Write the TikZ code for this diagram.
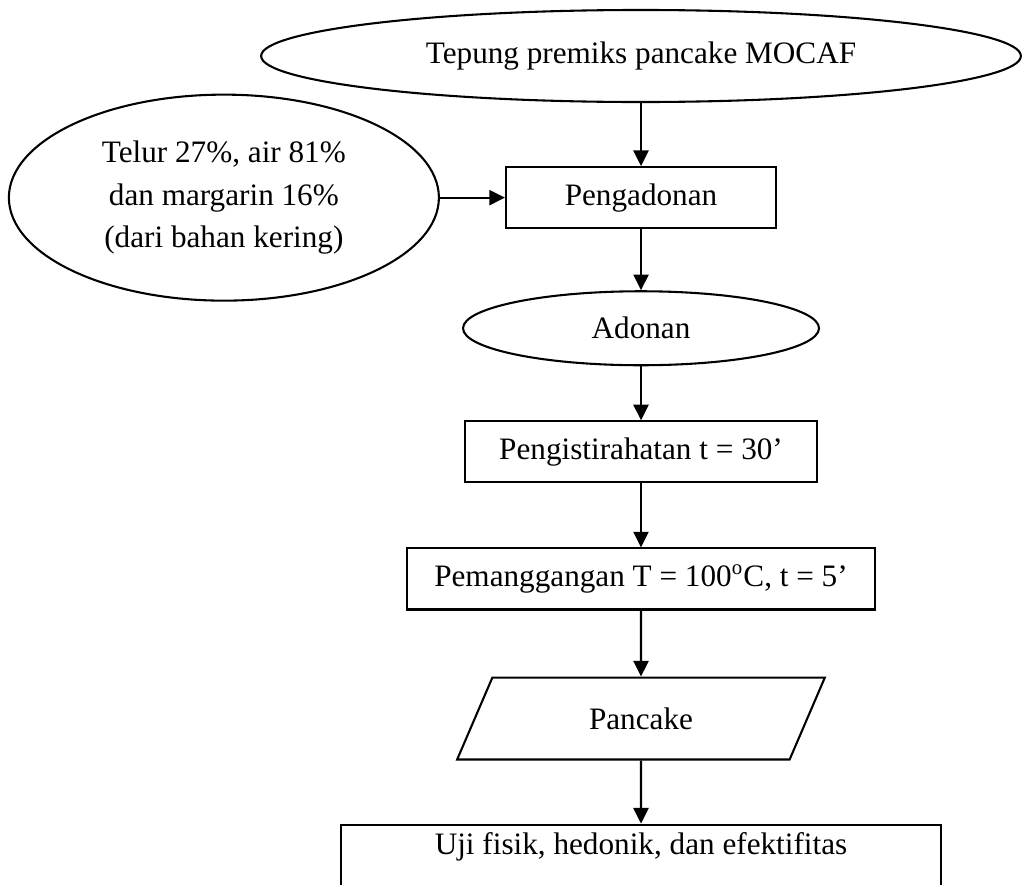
\documentclass[tikz,border=0pt]{standalone}
\usepackage{fontspec}
\setmainfont{Liberation Serif}
\usepackage{tikz}
\usetikzlibrary{arrows.meta,positioning,shapes.geometric}

\begin{document}
\begin{tikzpicture}[
  every node/.style={font=\fontsize{12}{16.2}\selectfont},
  box/.style={draw,line width=0.8pt,minimum height=0.825cm,inner sep=0pt},
  oval/.style={draw,ellipse,line width=0.8pt,inner sep=0pt},
  para/.style={draw,trapezium,trapezium left angle=60.7,trapezium right angle=119.3,trapezium stretches=true,line width=0.8pt,inner sep=0pt,minimum width=4.975cm,minimum height=1.108cm},
  arr/.style={-{Triangle[length=6pt,width=5.8pt]},line width=0.8pt}
]
\useasboundingbox[fill=white] (0,0) rectangle (13.815,-11.950);
\clip (0,0) rectangle (13.815,-11.950);
\node[oval,minimum width=10.27cm,minimum height=1.244cm] (tepung) at (8.665,-0.757) {Tepung premiks pancake MOCAF};
\node[box,minimum width=3.65cm,below=0.852cm of tepung] (aduk) {Pengadonan};
\node[oval,minimum width=4.812cm,minimum height=1.0cm,below=0.825cm of aduk] (adonan) {Adonan};
\node[box,minimum width=4.758cm,below=0.730cm of adonan] (istirahat) {Pengistirahatan t = 30’};
\node[box,minimum width=6.326cm,below=0.865cm of istirahat] (panggang) {Pemanggangan T = 100\textsuperscript{o}C, t = 5’};
\node[para,below=0.892cm of panggang] (pancake) {Pancake};
\node[draw,line width=0.8pt,minimum width=8.111cm,inner sep=0pt,text height=0.406cm,text depth=1.2cm,below=0.852cm of pancake] (uji) {Uji fisik, hedonik, dan efektifitas};
\node[oval,minimum width=5.813cm,minimum height=2.785cm,align=center,left=0.879cm of aduk] (bahan) {Telur 27\%, air 81\%\\dan margarin 16\%\\(dari bahan kering)};
\draw[arr] (tepung)--(aduk); \draw[arr] (bahan)--(aduk); \draw[arr] (aduk)--(adonan);
\draw[arr] (adonan)--(istirahat); \draw[arr] (istirahat)--(panggang);
\draw[arr] (panggang)--(pancake); \draw[arr] (pancake)--(uji);
\end{tikzpicture}
\end{document}
